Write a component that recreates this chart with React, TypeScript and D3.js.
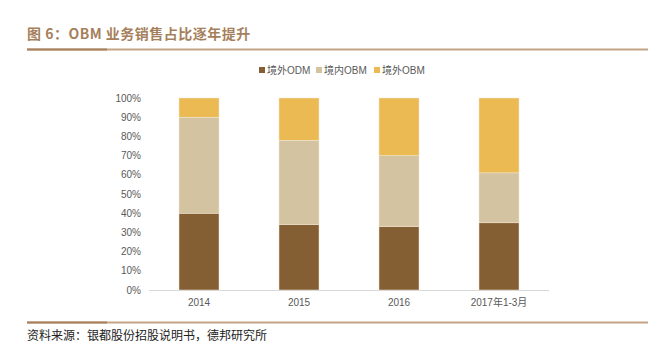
import React from 'react';
import * as d3 from 'd3';

const categories = ['2014', '2015', '2016', '2017年1-3月'];
const overseasOdm = [40, 34, 33, 35];
const domesticObm = [50, 44, 37, 26];
const overseasObm = [10, 22, 30, 39];
const seriesNames = ['境外ODM', '境内OBM', '境外OBM'];
const colors = ['#845F33', '#D3C3A0', '#EBBA52'];
const yTicks = [0, 10, 20, 30, 40, 50, 60, 70, 80, 90, 100];

const W = 665;
const H = 353;
const margin = { top: 98, right: 116, bottom: 63, left: 149 };

const App = () => {
  const x = d3.scaleBand()
    .domain(categories)
    .range([margin.left, W - margin.right])
    .paddingInner(0.6)
    .paddingOuter(0.3);

  const y = d3.scaleLinear()
    .domain([0, 100])
    .range([H - margin.bottom, margin.top]);

  const rows = categories.map((c, i) => ({
    cat: c,
    a: overseasOdm[i],
    b: domesticObm[i],
    c: overseasObm[i],
  }));
  const stacked = d3.stack<any>().keys(['a', 'b', 'c'])(rows);

  const font = '"Liberation Sans", Arial, "Noto Sans CJK SC", sans-serif';
  const legendX = [259, 316, 374];

  return (
    <svg width={W} height={H} style={{ position: 'absolute', left: 0, top: 0 }}>
      <rect width={W} height={H} fill="#fff" />
      <text x={27} y={39} fontSize={14} fontWeight="bold" fill="#A67F5C" letterSpacing={0.5}
        fontFamily='"Noto Sans CJK SC", sans-serif'>图 6：OBM 业务销售占比逐年提升</text>
      <line x1={27} x2={648} y1={49.5} y2={49.5} stroke="#C3A385" strokeWidth={2} />
      <line x1={27} x2={107} y1={49.5} y2={49.5} stroke="#A7815F" strokeWidth={2} />

      {seriesNames.map((n, i) => (
        <g key={n}>
          <rect x={legendX[i]} y={67} width={6} height={6} fill={colors[i]} />
          <text x={legendX[i] + 8} y={74} fontSize={10} fill="#595959" fontFamily={font}>{n}</text>
        </g>
      ))}

      {yTicks.map(t => (
        <text key={t} x={141} y={y(t) + 3.5} fontSize={10} textAnchor="end" fill="#595959"
          fontFamily={font}>{t}%</text>
      ))}

      {stacked.map((s, si) => (
        <g key={si} fill={colors[si]}>
          {s.map((d: any) => (
            <rect key={d.data.cat} x={x(d.data.cat)} y={y(d[1])} width={x.bandwidth()}
              height={y(d[0]) - y(d[1])} stroke="#F2E6D6" strokeWidth={0.5} />
          ))}
        </g>
      ))}

      <line x1={margin.left} x2={W - margin.right} y1={y(0) + 0.5} y2={y(0) + 0.5}
        stroke="#D9D9D9" strokeWidth={1} />

      {categories.map(c => (
        <text key={c} x={(x(c) as number) + x.bandwidth() / 2} y={306} fontSize={10}
          textAnchor="middle" fill="#595959" fontFamily={font}>{c}</text>
      ))}

      <line x1={27} x2={648} y1={322.5} y2={322.5} stroke="#C3A385" strokeWidth={2} />
      <line x1={27} x2={107} y1={322.5} y2={322.5} stroke="#A7815F" strokeWidth={2} />
      <text x={27} y={340} fontSize={12} fill="#222" fontFamily='"Noto Sans CJK SC", serif'>
        资料来源：银都股份招股说明书，德邦研究所
      </text>
    </svg>
  );
};

export default App;
